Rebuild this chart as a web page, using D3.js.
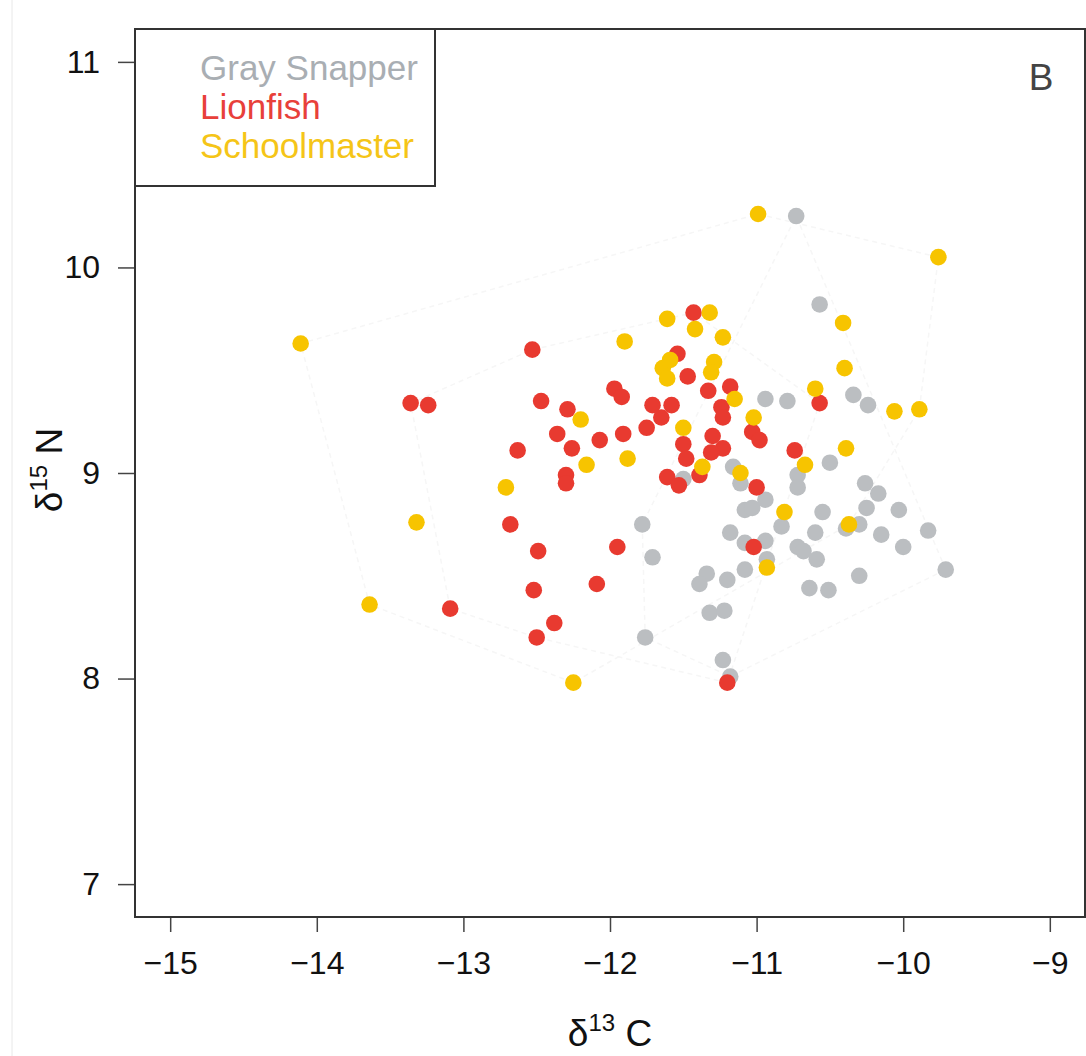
<!DOCTYPE html>
<html>
<head>
<meta charset="utf-8">
<script src="https://cdn.jsdelivr.net/npm/d3@7"></script>
<style>
  html, body { margin: 0; padding: 0; background: #fff; }
  svg { display: block; font-family: "Liberation Sans", Arial, sans-serif; }
</style>
</head>
<body>
<svg id="chart" width="1086" height="1056"></svg>
<script>
// ---- data (δ13C, δ15N) ----
const species = ["Gray Snapper", "Lionfish", "Schoolmaster"];
const speciesColors = ["#bbbec1", "#e83a30", "#f7c400"];
const legendColors = ["#a9aeb3", "#e8403a", "#f5c518"];

const graySnapperC = [-10.73,-10.57,-10.94,-10.79,-10.34,-10.24,-11.16,-11.11,-11.50,-10.72,-10.72,-10.50,-10.26,-10.17,-10.25,-10.03,-10.55,-10.60,-10.39,-10.30,-10.15,-9.83,-10.00,-10.59,-9.71,-10.30,-10.64,-10.51,-11.08,-11.03,-10.94,-11.18,-11.08,-10.94,-10.93,-10.83,-10.72,-10.68,-11.78,-11.71,-11.76,-11.23,-11.18,-11.34,-11.39,-11.20,-11.08,-11.32,-11.22];
const graySnapperN = [10.25,9.82,9.36,9.35,9.38,9.33,9.03,8.95,8.97,8.99,8.93,9.05,8.95,8.90,8.83,8.82,8.81,8.71,8.73,8.75,8.70,8.72,8.64,8.58,8.53,8.50,8.44,8.43,8.82,8.83,8.87,8.71,8.66,8.67,8.58,8.74,8.64,8.62,8.75,8.59,8.20,8.09,8.01,8.51,8.46,8.48,8.53,8.32,8.33];

const lionfishC = [-12.53,-13.36,-13.24,-12.47,-12.29,-12.36,-12.26,-12.63,-12.30,-12.30,-12.68,-12.49,-12.52,-13.09,-12.38,-12.50,-12.09,-11.95,-11.43,-11.54,-11.47,-11.33,-11.18,-11.97,-11.92,-11.71,-11.58,-11.65,-11.24,-11.23,-11.75,-11.91,-12.07,-11.30,-11.23,-11.31,-11.50,-11.48,-11.03,-10.98,-10.74,-11.61,-11.53,-11.39,-11.00,-10.57,-11.02,-11.20];
const lionfishN = [9.60,9.34,9.33,9.35,9.31,9.19,9.12,9.11,8.99,8.95,8.75,8.62,8.43,8.34,8.27,8.20,8.46,8.64,9.78,9.58,9.47,9.40,9.42,9.41,9.37,9.33,9.33,9.27,9.32,9.27,9.22,9.19,9.16,9.18,9.12,9.10,9.14,9.07,9.20,9.16,9.11,8.98,8.94,8.99,8.93,9.34,8.64,7.98];

const schoolmasterC = [-14.11,-13.32,-13.64,-12.71,-12.25,-12.20,-12.16,-11.90,-11.88,-11.61,-11.32,-11.42,-11.23,-11.64,-11.59,-11.61,-11.29,-11.31,-11.15,-11.02,-11.50,-11.37,-11.11,-10.67,-10.60,-10.41,-10.40,-10.39,-9.76,-10.06,-9.89,-10.37,-10.99,-10.81,-10.93];
const schoolmasterN = [9.63,8.76,8.36,8.93,7.98,9.26,9.04,9.64,9.07,9.75,9.78,9.70,9.66,9.51,9.55,9.46,9.54,9.49,9.36,9.27,9.22,9.03,9.00,9.04,9.41,9.73,9.51,9.12,10.05,9.30,9.31,8.75,10.26,8.81,8.54];

const xTicks = [-15, -14, -13, -12, -11, -10, -9];
const yTicks = [7, 8, 9, 10, 11];
const panelLabel = "B";

// ---- build series ----
const seriesC = [graySnapperC, lionfishC, schoolmasterC];
const seriesN = [graySnapperN, lionfishN, schoolmasterN];
const groups = species.map((s, i) => ({
  name: s, color: speciesColors[i], legendColor: legendColors[i],
  pts: seriesC[i].map((c, j) => [c, seriesN[i][j]])
}));

const svg = d3.select("#chart");
const pLeft = 135, pRight = 1085, pTop = 29, pBottom = 917;

const x = d3.scaleLinear().domain([-15.24, -8.76]).range([pLeft, pRight]);
const y = d3.scaleLinear().domain([6.84, 11.16]).range([pBottom, pTop]);

// faint page edge line
svg.append("line").attr("x1", 12).attr("x2", 12).attr("y1", 0).attr("y2", 1056)
  .attr("stroke", "#e8e8e8").attr("stroke-width", 1);

// very faint hulls
groups.forEach(g => {
  const hull = d3.polygonHull(g.pts.map(p => [x(p[0]), y(p[1])]));
  if (hull) {
    svg.append("path")
      .attr("d", "M" + hull.map(p => p.join(",")).join("L") + "Z")
      .attr("fill", "none").attr("stroke", "#f6f6f6")
      .attr("stroke-width", 1.5).attr("stroke-dasharray", "5,4");
  }
});

// points: gray, then red, then yellow on top
groups.forEach(g => {
  svg.append("g").selectAll("circle").data(g.pts).join("circle")
    .attr("cx", d => x(d[0])).attr("cy", d => y(d[1]))
    .attr("r", 8.3).attr("fill", g.color);
});

// axes
const yAxis = d3.axisLeft(y).tickValues(yTicks).tickSize(17).tickPadding(18)
  .tickFormat(d3.format("d"));
const gy = svg.append("g").attr("transform", `translate(${pLeft},0)`).call(yAxis);
gy.select(".domain").remove();
gy.selectAll(".tick line").attr("stroke", "#444").attr("stroke-width", 1.5);
gy.selectAll("text").attr("font-size", 32).attr("fill", "#111")
  .attr("font-family", "Liberation Sans, Arial, sans-serif");

const xAxis = d3.axisBottom(x).tickValues(xTicks).tickSize(15).tickPadding(19)
  .tickFormat(d => d < 0 ? "\u2212" + Math.abs(d) : String(d));
const gx = svg.append("g").attr("transform", `translate(0,${pBottom})`).call(xAxis);
gx.select(".domain").remove();
gx.selectAll(".tick line").attr("stroke", "#444").attr("stroke-width", 1.5);
gx.selectAll("text").attr("font-size", 32).attr("fill", "#111")
  .attr("font-family", "Liberation Sans, Arial, sans-serif");

// frame
svg.append("rect").attr("x", pLeft).attr("y", pTop)
  .attr("width", pRight - pLeft).attr("height", pBottom - pTop)
  .attr("fill", "none").attr("stroke", "#333").attr("stroke-width", 2);

// legend
svg.append("rect").attr("x", pLeft).attr("y", pTop).attr("width", 300).attr("height", 157)
  .attr("fill", "#fff").attr("stroke", "#333").attr("stroke-width", 2);
groups.forEach((g, i) => {
  svg.append("text").attr("x", 200).attr("y", 80 + i * 39)
    .attr("font-size", 35).attr("fill", g.legendColor).text(g.name);
});

// panel label
svg.append("text").attr("x", 1041).attr("y", 90).attr("text-anchor", "middle")
  .attr("font-size", 37).attr("fill", "#444")
  .attr("font-family", "'Liberation Sans', Arial, sans-serif").text(panelLabel);

// x title
const xt = svg.append("text").attr("x", 610).attr("y", 1046)
  .attr("text-anchor", "middle").attr("font-size", 37).attr("fill", "#111");
xt.append("tspan").text("\u03b4");
xt.append("tspan").attr("font-size", 24).attr("dy", -15).text("13");
xt.append("tspan").attr("dy", 15).text(" C");

// y title
const yt = svg.append("text").attr("transform", "translate(62,470) rotate(-90)")
  .attr("text-anchor", "middle").attr("font-size", 37).attr("fill", "#111");
yt.append("tspan").text("\u03b4");
yt.append("tspan").attr("font-size", 24).attr("dy", -15).text("15");
yt.append("tspan").attr("dy", 15).text(" N");
</script>
</body>
</html>
